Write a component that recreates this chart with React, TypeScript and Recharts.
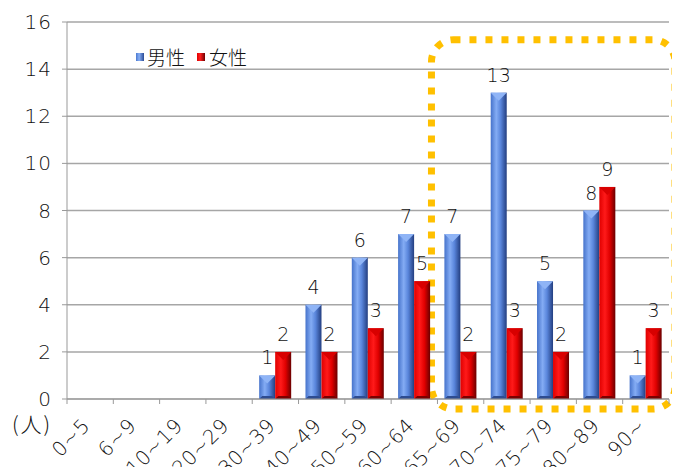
import React from 'react';
import { BarChart, Bar, XAxis, YAxis, CartesianGrid, LabelList, ReferenceArea, Label } from 'recharts';

const categories = ['0~5', '6~9', '10~19', '20~29', '30~39', '40~49', '50~59', '60~64', '65~69', '70~74', '75~79', '80~89', '90~'];
const maleValues = [null, null, null, null, 1, 4, 6, 7, 7, 13, 5, 8, 1];
const femaleValues = [null, null, null, null, 2, 2, 3, 5, 2, 3, 2, 9, 3];
const seriesNames = ['男性', '女性'];
const yTicks = [0, 2, 4, 6, 8, 10, 12, 14, 16];
const unitLabel = '(人)';
const highlightFrom = '65~69';
const highlightTo = '90~';
const highlightTop = 15.25;

const data = categories.map((c, i) => ({ name: c, male: maleValues[i], female: femaleValues[i] }));

const W = 680;
const H = 475;
const MARGIN = { top: 22, right: 11, left: 0, bottom: 0 };
const Y_W = 67;
const X_H = 76;
const BAND = (W - MARGIN.left - MARGIN.right - Y_W) / categories.length;
const CJK = "'Noto Sans CJK JP', 'Noto Sans', sans-serif";
const NUM = "'DejaVu Sans', sans-serif";

const makeBar = (fillId: string, topColor: string, bottomColor: string) => (props: any) => {
  const { x, y, width, height } = props;
  if (!height || height <= 0) return null;
  const d = Math.min(width / 2, height);
  const b = Math.min(3, height / 2);
  return (
    <g>
      <rect x={x} y={y} width={width} height={height} fill={`url(#${fillId})`} />
      <polygon points={`${x},${y} ${x + width},${y} ${x + width / 2},${y + d}`} fill={topColor} />
      <polygon points={`${x},${y + height} ${x + width},${y + height} ${x + width - b},${y + height - b} ${x + b},${y + height - b}`} fill={bottomColor} />
    </g>
  );
};

const MaleBar = makeBar('gMale', '#8FB4F6', '#2E4C90');
const FemaleBar = makeBar('gFemale', '#D80000', '#7A0000');

const XTick = (props: any) => {
  const { x, y, payload, index } = props;
  const axisY = y - 5;
  const ty = axisY + 28;
  const isLast = index === categories.length - 1;
  return (
    <g>
      <line x1={x - BAND / 2} x2={x - BAND / 2} y1={axisY} y2={axisY + 5} stroke="#999" />
      {isLast && <line x1={x + BAND / 2} x2={x + BAND / 2} y1={axisY} y2={axisY + 5} stroke="#999" />}
      <text x={x + 1} y={ty} transform={`rotate(-45, ${x + 1}, ${ty})`} textAnchor="end" fontSize={20} fontWeight={300} letterSpacing={0.5} fill="#111" fontFamily={NUM}>
        {payload.value}
      </text>
    </g>
  );
};

const HighlightShape = (props: any) => {
  const { x, y, width, height } = props;
  const padX = 6;
  return (
    <rect
      x={x - padX}
      y={y}
      width={width + padX * 2}
      height={height + 10}
      rx={22}
      ry={22}
      fill="none"
      stroke="#FFC000"
      strokeWidth={7}
      strokeDasharray="7 9"
    />
  );
};

const LegendBox = () => (
  <div style={{ position: 'absolute', left: 136, top: 45, display: 'flex', alignItems: 'center', fontFamily: CJK, fontSize: 19, fontWeight: 300, color: '#111', lineHeight: '24px' }}>
    <span style={{ width: 8, height: 8, background: 'linear-gradient(90deg,#4A78CF,#86AEF5 40%,#2A4A94)', display: 'inline-block', marginRight: 3 }} />
    <span style={{ marginRight: 12 }}>{seriesNames[0]}</span>
    <span style={{ width: 8, height: 8, background: 'linear-gradient(90deg,#E00000,#FF2020 40%,#700000)', display: 'inline-block', marginRight: 4 }} />
    <span>{seriesNames[1]}</span>
  </div>
);

export default function App() {
  return (
    <div style={{ margin: -8, width: W, height: H, background: '#fff', position: 'relative' }}>
      <BarChart width={W} height={H} data={data} margin={MARGIN} barCategoryGap="15%" barGap={0}>
        <defs>
          <linearGradient id="gMale" x1="0" y1="0" x2="1" y2="0">
            <stop offset="0%" stopColor="#4673CB" />
            <stop offset="35%" stopColor="#84ACF4" />
            <stop offset="62%" stopColor="#5A86DC" />
            <stop offset="100%" stopColor="#233E80" />
          </linearGradient>
          <linearGradient id="gFemale" x1="0" y1="0" x2="1" y2="0">
            <stop offset="0%" stopColor="#E00000" />
            <stop offset="35%" stopColor="#FF1A1A" />
            <stop offset="65%" stopColor="#E00000" />
            <stop offset="100%" stopColor="#6A0000" />
          </linearGradient>
        </defs>
        <CartesianGrid vertical={false} stroke="#A6A6A6" strokeWidth={1.5} />
        <XAxis
          dataKey="name"
          stroke="#999"
          tickLine={false}
          tickSize={5}
          tickMargin={0}
          height={X_H}
          interval={0}
          tick={<XTick />}
        />
        <YAxis
          domain={[0, 16]}
          ticks={yTicks}
          width={Y_W}
          stroke="#999"
          tickSize={5}
          tickMargin={10}
          tick={{ fontSize: 20, fontWeight: 300, fill: '#111', fontFamily: NUM, letterSpacing: 1 }}
          interval={0}
        >
          <Label
            content={(p: any) => {
              const vb = p.viewBox || {};
              return (
                <text x={vb.x + 32} y={vb.y + vb.height + 33} textAnchor="middle" fontSize={21} fill="#111" fontFamily={CJK} fontWeight={300} letterSpacing={2}>
                  {unitLabel}
                </text>
              );
            }}
          />
        </YAxis>
        <Bar dataKey="male" name={seriesNames[0]} shape={MaleBar} isAnimationActive={false}>
          <LabelList dataKey="male" position="top" offset={11} fontSize={19} fontWeight={300} fill="#111" fontFamily={NUM} />
        </Bar>
        <Bar dataKey="female" name={seriesNames[1]} shape={FemaleBar} isAnimationActive={false}>
          <LabelList dataKey="female" position="top" offset={11} fontSize={19} fontWeight={300} fill="#111" fontFamily={NUM} />
        </Bar>
        <ReferenceArea x1={highlightFrom} x2={highlightTo} y1={0} y2={highlightTop} ifOverflow="visible" shape={HighlightShape} />
      </BarChart>
      <LegendBox />
    </div>
  );
}
